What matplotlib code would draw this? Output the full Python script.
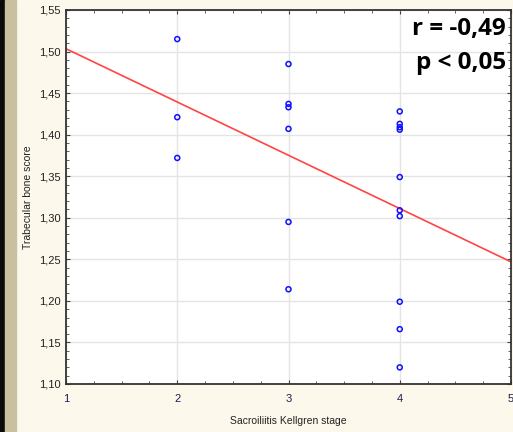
import numpy as np
import matplotlib.pyplot as plt
from matplotlib.ticker import MultipleLocator, FuncFormatter
from matplotlib.patches import Rectangle

stage = [2, 2, 2,
         3, 3, 3, 3, 3, 3,
         4, 4, 4, 4, 4, 4, 4, 4, 4, 4]
tbs = [1.515, 1.421, 1.372,
       1.485, 1.437, 1.433, 1.407, 1.295, 1.214,
       1.428, 1.413, 1.409, 1.406, 1.349, 1.309, 1.302, 1.199, 1.166, 1.120]
x_ticks = [1, 2, 3, 4, 5]
y_ticks = [1.10, 1.15, 1.20, 1.25, 1.30, 1.35, 1.40, 1.45, 1.50, 1.55]
stats_text = ["r = -0,49", "p < 0,05"]

plt.rcParams['font.family'] = ['Liberation Sans', 'DejaVu Sans']

W, H = 513, 432
fig = plt.figure(figsize=(W / 100, H / 100), dpi=100)
fig.patch.set_facecolor('#fdf8ec')
# left decorative strips
fig.patches.append(Rectangle((0, 0), 5 / W, 1, transform=fig.transFigure, color='#0a0a0a', zorder=-2))
fig.patches.append(Rectangle((5 / W, 0), 11 / W, 1, transform=fig.transFigure, color='#c8c09e', zorder=-2))

left, right, top, bottom = 66, 511, 10, 384
ax = fig.add_axes([left / W, 1 - bottom / H, (right - left) / W, (bottom - top) / H])
ax.set_facecolor('white')

ax.set_xlim(1, 5)
ax.set_ylim(1.10, 1.55)
ax.set_xticks(x_ticks)
ax.set_yticks(y_ticks)
ax.yaxis.set_major_formatter(FuncFormatter(lambda v, p: f"{v:.2f}".replace('.', ',')))
ax.xaxis.set_major_formatter(FuncFormatter(lambda v, p: f"{v:.0f}"))
ax.xaxis.set_minor_locator(MultipleLocator(0.25))
ax.yaxis.set_minor_locator(MultipleLocator(0.01))
ax.grid(True, which='major', color='#e4e4e4', linewidth=1.0, zorder=0)
ax.set_axisbelow(True)

ax.tick_params(axis='both', which='both', direction='in', top=True, right=True,
               color='#444444', labelsize=8)
ax.tick_params(which='major', length=3, width=0.8)
ax.tick_params(which='minor', length=2, width=0.6)
ax.tick_params(axis='x', labelcolor='#1a1f4a', pad=7)
ax.tick_params(axis='y', labelcolor='#222222', pad=4)
for s in ax.spines.values():
    s.set_color('#333333')
    s.set_linewidth(1.3)

# regression line
k, b = np.polyfit(stage, tbs, 1)
xx = np.array([1, 5])
ax.plot(xx, k * xx + b, color='#ff4444', linewidth=1.2, zorder=2)

ax.scatter(stage, tbs, s=13, facecolors='none', edgecolors='#1010ff', linewidths=1.1, zorder=3)

ax.set_xlabel("Sacroiliitis Kellgren stage", fontsize=7.5, color='#222222', labelpad=9)
ax.set_ylabel("Trabecular bone score", fontsize=7.5, color='#222222', va='center')
ax.yaxis.set_label_coords((28 - left) / (right - left), 0.5)

fig.text(506 / W, 1 - 29 / H, stats_text[0], ha='right', va='center', fontsize=17.5,
         fontweight='bold', family=['Open Sans', 'DejaVu Sans'], color='black', zorder=5)
fig.text(506 / W, 1 - 63 / H, stats_text[1], ha='right', va='center', fontsize=17.5,
         fontweight='bold', family=['Open Sans', 'DejaVu Sans'], color='black', zorder=5)

fig.savefig('out.png', dpi=100, facecolor=fig.get_facecolor())
